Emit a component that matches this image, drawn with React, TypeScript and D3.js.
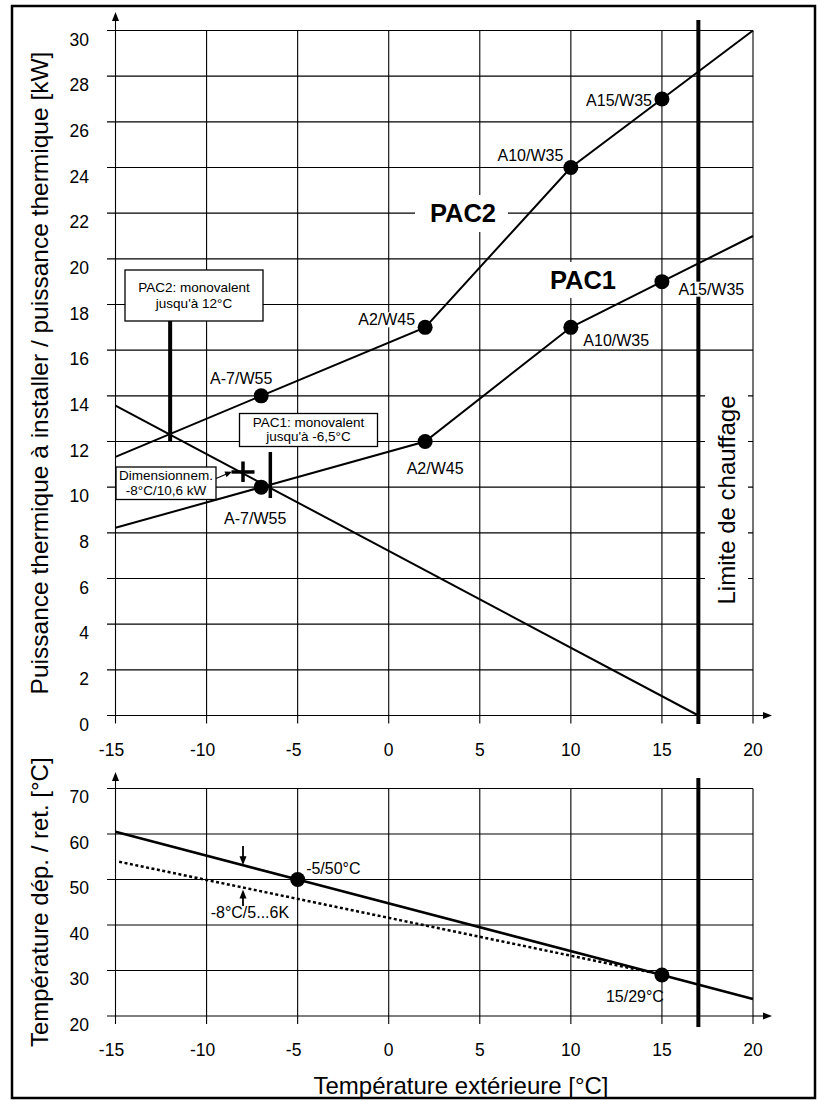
import React from "react";
import * as d3 from "d3";

// ---------- data ----------
const xTicks = [-15, -10, -5, 0, 5, 10, 15, 20];
const yTicksTop = [0, 2, 4, 6, 8, 10, 12, 14, 16, 18, 20, 22, 24, 26, 28, 30];
const yTicksBottom = [20, 30, 40, 50, 60, 70];

const pointTemps = [-7, 2, 10, 15];
const pac1Power = [10, 12, 17, 19];
const pac2Power = [14, 17, 24, 27];
const pointLabels = ["A-7/W55", "A2/W45", "A10/W35", "A15/W35"];

const lineTemps = [-15, -7, 2, 10, 15, 20];
const pac1Line = [8.22, 10, 12, 17, 19, 21];
const pac2Line = [11.33, 14, 17, 24, 27, 30];

const loadTemps = [-15, 17];
const loadPower = [13.57, 0];

const designTemp = -8;
const designPower = 10.6;
const pac2Bivalent = -12;
const pac1Bivalent = -6.5;
const heatingLimit = 17;

const flowTemps = [-15, -5, 15, 20];
const flowValues = [60.5, 50, 29, 23.75];
const returnTemps = [-14.8, 14.5];
const returnValues = [53.9, 29.5];
const flowPointTemps = [-5, 15];
const flowPointValues = [50, 29];
const flowPointLabels = ["-5/50°C", "15/29°C"];
const returnAtDesign = 47.8;

// ---------- layout ----------
const W = 825;
const H = 1100;
const FONT = "'Liberation Sans', Arial, sans-serif";

const x = d3.scaleLinear().domain([-15, 20]).range([115.5, 753]);
const yT = d3.scaleLinear().domain([0, 30]).range([715.5, 30.5]);
const yB = d3.scaleLinear().domain([20, 70]).range([1016, 788.5]);

const pac2LabelPos = [
  { anchor: "middle", dx: -20, dy: -12 },
  { anchor: "end", dx: -10, dy: -2 },
  { anchor: "end", dx: -7.5, dy: -7 },
  { anchor: "end", dx: -10, dy: 6.7 },
];
const pac1LabelPos = [
  { anchor: "middle", dx: -6, dy: 36.5 },
  { anchor: "middle", dx: 10, dy: 32 },
  { anchor: "start", dx: 12.5, dy: 19 },
  { anchor: "start", dx: 16.5, dy: 13 },
];
const flowLabelPos = [
  { anchor: "start", dx: 8.5, dy: -6 },
  { anchor: "end", dx: 2, dy: 27 },
];

const LABEL_W = 62;

function labelBg(tx: number, ty: number, anchor: string) {
  const x0 = anchor === "end" ? tx - LABEL_W : anchor === "middle" ? tx - LABEL_W / 2 : tx;
  return <rect x={x0 - 2} y={ty - 13} width={LABEL_W + 4} height={15} fill="#fff" />;
}

export default function App() {
  const lineTop = d3
    .line<number>()
    .x((_, i) => x(lineTemps[i]))
    .y((d) => yT(d));
  const loadLine = d3
    .line<number>()
    .x((_, i) => x(loadTemps[i]))
    .y((d) => yT(d));
  const flowLine = d3
    .line<number>()
    .x((_, i) => x(flowTemps[i]))
    .y((d) => yB(d));
  const returnLine = d3
    .line<number>()
    .x((_, i) => x(returnTemps[i]))
    .y((d) => yB(d));

  const xL = x(-15);
  const xR = x(20);

  const grid = (yScale: d3.ScaleLinear<number, number>, ticks: number[]) => {
    const [lo, hi] = yScale.domain();
    return (
      <g stroke="#000" strokeWidth={1.1}>
        {ticks.map((t) => (
          <line key={"h" + t} x1={107} x2={xR} y1={yScale(t)} y2={yScale(t)} />
        ))}
        {xTicks.map((t) => (
          <line key={"v" + t} x1={x(t)} x2={x(t)} y1={yScale(hi)} y2={yScale(lo) + 8} />
        ))}
      </g>
    );
  };

  const yTickLabels = (yScale: d3.ScaleLinear<number, number>, ticks: number[], off: number) =>
    ticks.map((t) => (
      <text key={"yl" + t} x={89} y={yScale(t) + off} textAnchor="end" fontSize={17.5}>
        {t}
      </text>
    ));

  const xTickLabels = (yPos: number) =>
    xTicks.map((t) => (
      <text key={"xl" + t} x={x(t)} dx={t < 0 ? -4 : 0} y={yPos} textAnchor="middle" fontSize={17.5}>
        {t}
      </text>
    ));

  const arrowUp = (cx: number, tip: number) => (
    <polygon points={`${cx},${tip} ${cx - 3.5},${tip + 9} ${cx + 3.5},${tip + 9}`} fill="#000" />
  );
  const arrowRight = (cy: number, tip: number) => (
    <polygon points={`${tip},${cy} ${tip - 9},${cy - 3.5} ${tip - 9},${cy + 3.5}`} fill="#000" />
  );

  const dX = x(designTemp);
  const dY = yT(designPower);

  const pac2Lbl = pointTemps.map((t, i) => ({
    x: x(t) + pac2LabelPos[i].dx,
    y: yT(pac2Power[i]) + pac2LabelPos[i].dy,
    anchor: pac2LabelPos[i].anchor,
  }));
  const pac1Lbl = pointTemps.map((t, i) => ({
    x: x(t) + pac1LabelPos[i].dx,
    y: yT(pac1Power[i]) + pac1LabelPos[i].dy,
    anchor: pac1LabelPos[i].anchor,
  }));

  return (
    <svg
      width={W}
      height={H}
      style={{ position: "absolute", left: 0, top: 0, background: "#fff" }}
      fontFamily={FONT}
    >
      <rect x={0} y={0} width={W} height={H} fill="#fff" />
      <rect x={12} y={6} width={803} height={1092} fill="none" stroke="#000" strokeWidth={2.5} />

      {/* ---------- TOP CHART ---------- */}
      {grid(yT, yTicksTop)}
      <line x1={xL} x2={xL} y1={yT(30)} y2={20} stroke="#000" strokeWidth={1.1} />
      {arrowUp(xL, 12)}
      <line x1={xR} x2={764} y1={yT(0)} y2={yT(0)} stroke="#000" strokeWidth={1.1} />
      {arrowRight(yT(0), 772)}

      {/* heating limit */}
      <line x1={x(heatingLimit)} x2={x(heatingLimit)} y1={20} y2={724} stroke="#000" strokeWidth={4} />

      {/* white knockouts */}
      <rect x={415} y={195} width={93} height={37} fill="#fff" />
      <rect x={540} y={262} width={86} height={36} fill="#fff" />
      <rect x={705} y={390} width={43} height={220} fill="#fff" />
      {pac2Lbl.map((l, i) => (
        <g key={"bg2" + i}>{labelBg(l.x, l.y, l.anchor)}</g>
      ))}
      {pac1Lbl.map((l, i) => (
        <g key={"bg1" + i}>{labelBg(l.x, l.y, l.anchor)}</g>
      ))}

      {yTickLabels(yT, yTicksTop, 15)}
      {xTickLabels(756)}

      <text transform={`translate(735,500) rotate(-90)`} textAnchor="middle" fontSize={24}>
        Limite de chauffage
      </text>

      {/* building load line */}
      <path d={loadLine(loadPower) || ""} fill="none" stroke="#000" strokeWidth={2} />
      {/* PAC lines */}
      <path d={lineTop(pac2Line) || ""} fill="none" stroke="#000" strokeWidth={2} />
      <path d={lineTop(pac1Line) || ""} fill="none" stroke="#000" strokeWidth={2} />

      {/* bivalent markers */}
      <line x1={x(pac2Bivalent)} x2={x(pac2Bivalent)} y1={321} y2={442} stroke="#000" strokeWidth={4} />
      <line x1={x(pac1Bivalent)} x2={x(pac1Bivalent)} y1={452} y2={498} stroke="#000" strokeWidth={3.5} />

      {/* points */}
      {pointTemps.map((t, i) => (
        <g key={"p" + i}>
          <circle cx={x(t)} cy={yT(pac2Power[i])} r={7.5} fill="#000" />
          <circle cx={x(t)} cy={yT(pac1Power[i])} r={7.5} fill="#000" />
          <text x={pac2Lbl[i].x} y={pac2Lbl[i].y} textAnchor={pac2Lbl[i].anchor as any} fontSize={16}>
            {pointLabels[i]}
          </text>
          <text x={pac1Lbl[i].x} y={pac1Lbl[i].y} textAnchor={pac1Lbl[i].anchor as any} fontSize={16}>
            {pointLabels[i]}
          </text>
        </g>
      ))}

      {/* series names */}
      <text x={463} y={222} textAnchor="middle" fontSize={25.5} fontWeight="bold">
        PAC2
      </text>
      <text x={583} y={289} textAnchor="middle" fontSize={25.5} fontWeight="bold">
        PAC1
      </text>

      {/* PAC2 box */}
      <rect x={125} y={270} width={138} height={51} fill="#fff" stroke="#000" strokeWidth={1.3} />
      <text x={194} y={291.5} textAnchor="middle" fontSize={13.5}>
        PAC2: monovalent
      </text>
      <text x={194} y={307.5} textAnchor="middle" fontSize={13.5}>
        jusqu'à 12°C
      </text>

      {/* PAC1 box */}
      <rect x={239.5} y={413.5} width={138} height={33} fill="#fff" stroke="#000" strokeWidth={1.3} />
      <text x={308.5} y={426.5} textAnchor="middle" fontSize={13.5}>
        PAC1: monovalent
      </text>
      <text x={308.5} y={440.5} textAnchor="middle" fontSize={13.5}>
        jusqu'à -6,5°C
      </text>

      {/* design point */}
      <line x1={dX - 11.5} x2={dX + 11.5} y1={dY - 1.5} y2={dY - 1.5} stroke="#000" strokeWidth={3.5} />
      <line x1={dX} x2={dX} y1={dY - 12} y2={dY + 8.5} stroke="#000" strokeWidth={3.5} />
      <rect x={116} y={467} width={100} height={32.5} fill="#fff" stroke="#000" strokeWidth={1.3} />
      <text x={166} y={479.7} textAnchor="middle" fontSize={13.5}>
        Dimensionnem.
      </text>
      <text x={166} y={494.7} textAnchor="middle" fontSize={13.5}>
        -8°C/10,6 kW
      </text>
      <line x1={216} y1={478.5} x2={226} y2={474.3} stroke="#000" strokeWidth={1.2} />
      <polygon points={`232,471.8 224.5,471.5 226.5,477.2`} fill="#000" />

      <text transform={`translate(48,${(yT(0) + yT(30)) / 2}) rotate(-90)`} textAnchor="middle" fontSize={24.5}>
        Puissance thermique à installer / puissance thermique [kW]
      </text>

      {/* ---------- BOTTOM CHART ---------- */}
      {grid(yB, yTicksBottom)}
      <line x1={xL} x2={xL} y1={yB(70)} y2={780} stroke="#000" strokeWidth={1.1} />
      {arrowUp(xL, 772)}
      <line x1={xR} x2={764} y1={yB(20)} y2={yB(20)} stroke="#000" strokeWidth={1.1} />
      {arrowRight(yB(20), 772)}

      {yTickLabels(yB, yTicksBottom, 14.5)}
      {xTickLabels(1056)}

      <line x1={x(heatingLimit)} x2={x(heatingLimit)} y1={778} y2={1027} stroke="#000" strokeWidth={4} />

      <path
        d={returnLine(returnValues) || ""}
        fill="none"
        stroke="#000"
        strokeWidth={2.5}
        strokeDasharray="3,2.5"
      />
      <path d={flowLine(flowValues) || ""} fill="none" stroke="#000" strokeWidth={2.6} />

      {flowPointTemps.map((t, i) => (
        <g key={"f" + i}>
          <circle cx={x(t)} cy={yB(flowPointValues[i])} r={7.5} fill="#000" />
          <text
            x={x(t) + flowLabelPos[i].dx}
            y={yB(flowPointValues[i]) + flowLabelPos[i].dy}
            textAnchor={flowLabelPos[i].anchor as any}
            fontSize={16}
          >
            {flowPointLabels[i]}
          </text>
        </g>
      ))}

      {/* spread marker at design temperature */}
      {(() => {
        const fy = yB(
          flowValues[0] +
            ((designTemp - flowTemps[0]) * (flowValues[1] - flowValues[0])) / (flowTemps[1] - flowTemps[0])
        );
        const ry = yB(returnAtDesign);
        return (
          <g>
            <line x1={dX} x2={dX} y1={846} y2={fy - 8} stroke="#000" strokeWidth={1.8} />
            <polygon points={`${dX},${fy} ${dX - 3.5},${fy - 9} ${dX + 3.5},${fy - 9}`} fill="#000" />
            <line x1={dX} x2={dX} y1={ry + 8} y2={906} stroke="#000" strokeWidth={1.8} />
            <polygon points={`${dX},${ry} ${dX - 3.5},${ry + 9} ${dX + 3.5},${ry + 9}`} fill="#000" />
            <text x={210.7} y={918.4} fontSize={16}>
              -8°C/5...6K
            </text>
          </g>
        );
      })()}

      <text transform={`translate(48,${(yB(20) + yB(70)) / 2}) rotate(-90)`} textAnchor="middle" fontSize={24}>
        Température dép. / ret. [°C]
      </text>

      <text x={461} y={1094} textAnchor="middle" fontSize={24}>
        Température extérieure [°C]
      </text>
    </svg>
  );
}
